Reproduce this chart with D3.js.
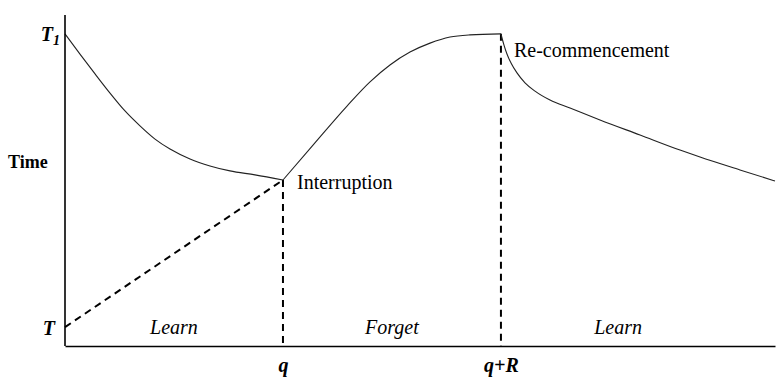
<!DOCTYPE html>
<meta charset="utf-8">
<style>
body { margin: 0; background: #fff; }
.curve { fill: none; stroke: #222; stroke-width: 1.1px; }
.guide { fill: none; stroke: #000; stroke-width: 2px; stroke-dasharray: 7,5; }
.axis path { stroke: #000; stroke-width: 1.6px; }
</style>
<svg width="780" height="382"></svg>
<script src="https://d3js.org/d3.v7.min.js"></script>
<script>

var serif = "'Liberation Serif', 'Times New Roman', 'DejaVu Serif', serif";

// 坐标轴上的标记值
var T = 5.7, T1 = 94.3, q = 30.7, qR = 61.4;

// 学习曲线（第一段）
var learn1 = [[0, 94.3], [2.11, 88.2], [4.23, 82.2], [6.34, 76.4], [8.45, 71], [10.56, 66.5], [12.68, 62.5],
              [14.79, 59.5], [17.61, 56.5], [20.42, 54.4], [23.24, 52.9], [26.76, 51.7], [30.7, 50.15]];
// 遗忘曲线
var forget = [[30.7, 50.15], [34.93, 60.7], [39.72, 72.5], [42.96, 79.8], [45.77, 84.9], [48.59, 88.8],
              [51.41, 91.5], [54.23, 93.35], [57.04, 94], [61.4, 94.3]];
// 重新开始后的学习曲线
var learn2 = [[61.4, 94.3], [61.55, 93.05], [61.83, 90.9], [62.25, 88.2], [62.82, 85.5], [63.66, 82.5],
              [64.79, 79.5], [66.2, 77], [68.31, 74.3], [71.13, 71.9], [75.35, 68.3], [80.99, 63.75],
              [86.62, 59.2], [89.44, 57.1], [95.07, 53.2], [100, 49.85]];

var phases = [["Learn", 0, q], ["Forget", q, qR], ["Learn", qR, 94.4]];

var svg = d3.select("svg").attr("font-family", serif);

var x = d3.scaleLinear().domain([0, 100]).range([65, 775]);
var y = d3.scaleLinear().domain([0, 100]).range([346, 15]);

var line = d3.line()
    .x(function(d) { return x(d[0]); })
    .y(function(d) { return y(d[1]); })
    .curve(d3.curveMonotoneX);

var yq = learn1[learn1.length - 1][1];

// 虚线：T 到中断点，以及两条竖线
svg.append("line").attr("class", "guide")
    .attr("x1", x(0)).attr("y1", y(T))
    .attr("x2", x(q)).attr("y2", y(yq));
svg.append("line").attr("class", "guide")
    .attr("x1", x(q)).attr("y1", y(yq))
    .attr("x2", x(q)).attr("y2", y(0));
svg.append("line").attr("class", "guide")
    .attr("x1", x(qR)).attr("y1", y(T1))
    .attr("x2", x(qR)).attr("y2", y(0));

[learn1, forget, learn2].forEach(function(s) {
  svg.append("path").attr("class", "curve").attr("d", line(s));
});

// 坐标轴
var yAxis = svg.append("g").attr("class", "axis")
    .attr("transform", "translate(" + x(0) + ",0)")
    .call(d3.axisLeft(y).tickValues([T, T1]).tickSize(0).tickPadding(5).tickSizeOuter(0)
      .tickFormat(function() { return ""; }));
yAxis.attr("font-family", serif);
yAxis.selectAll(".tick text").each(function(d) {
  var t = d3.select(this)
      .style("font-family", serif).style("font-weight", "bold").style("font-style", "italic")
      .style("font-size", "20px").attr("dy", "0.35em");
  t.append("tspan").text("T");
  if (d === T1) {
    t.append("tspan").style("font-size", "14px").attr("dy", "4").text("1");
  } else {
    t.attr("dx", "-5");
  }
});
yAxis.select(".domain").attr("d", "M0," + y(100) + "V" + y(0));

var xAxis = svg.append("g").attr("class", "axis")
    .attr("transform", "translate(0," + y(0) + ")")
    .call(d3.axisBottom(x).tickValues([q, qR]).tickSize(0).tickPadding(12).tickSizeOuter(0)
      .tickFormat(function(d) { return d === q ? "q" : "q+R"; }));
xAxis.attr("font-family", serif);
xAxis.selectAll(".tick text")
    .style("font-family", serif).style("font-weight", "bold").style("font-style", "italic")
    .style("font-size", "20px");

// 文字标注
svg.append("text").attr("x", 8).attr("y", 168)
    .style("font-family", serif).style("font-weight", "bold").style("font-size", "18px").text("Time");

svg.selectAll(".phase").data(phases).enter().append("text")
    .attr("class", "phase")
    .attr("x", function(d) { return x((d[1] + d[2]) / 2); })
    .attr("y", y(0) - 12)
    .attr("text-anchor", "middle")
    .style("font-family", serif).style("font-style", "italic").style("font-size", "20px")
    .text(function(d) { return d[0]; });

svg.append("text").attr("x", x(q) + 14).attr("y", y(yq) + 9)
    .style("font-family", serif).style("font-size", "20px").text("Interruption");
svg.append("text").attr("x", x(qR) + 13).attr("y", y(T1) + 23)
    .style("font-family", serif).style("font-size", "20px").text("Re-commencement");

</script>
